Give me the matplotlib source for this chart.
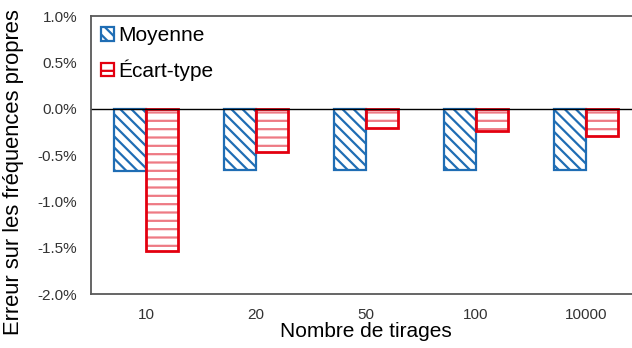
import numpy as np
import matplotlib.pyplot as plt
from matplotlib.ticker import FuncFormatter
from matplotlib.patches import Patch

plt.rcParams['font.family'] = ['Liberation Sans', 'DejaVu Sans']
plt.rcParams['hatch.linewidth'] = 1.6

tirages = ['10', '20', '50', '100', '10000']
moyenne = [-0.67, -0.66, -0.66, -0.66, -0.66]       # en %
ecart_type = [-1.54, -0.47, -0.21, -0.24, -0.29]    # en %

bleu = '#1F6DB4'
rouge = '#E3000F'
rose = '#EE7A84'

fig = plt.figure(figsize=(6.32, 3.48), dpi=100)
ax = fig.add_axes([0.144, 0.155, 0.870, 0.799])

x = np.arange(len(tirages))
w = 0.29
ax.bar(x - w / 2, moyenne, w, color='white', edgecolor=bleu, hatch='\\\\\\', linewidth=1.6)
# hachures rouges plus claires, puis le contour
ax.bar(x + w / 2, ecart_type, w, color='white', edgecolor=rose, hatch='--', linewidth=0)
ax.bar(x + w / 2, ecart_type, w, color='none', edgecolor=rouge, linewidth=2)

ax.axhline(0, color='black', linewidth=1)
ax.set_xlim(-0.5, len(tirages) - 0.5)
ax.set_ylim(-2.0, 1.0)
ax.set_yticks(np.arange(-2.0, 1.01, 0.5))
ax.yaxis.set_major_formatter(FuncFormatter(lambda v, p: f'{v:.1f}%'))
ax.set_xticks(x)
ax.set_xticklabels(tirages)
ax.tick_params(length=0, labelsize=11, colors='#333333', pad=10)
for s in ax.spines.values():
    s.set_color('#595959')
    s.set_linewidth(1.3)

ax.set_xlabel('Nombre de tirages', fontsize=15, labelpad=0)
ax.set_ylabel('Erreur sur les fréquences propres', fontsize=15.8)
ax.yaxis.set_label_coords(-0.122, 0.44)

handles = [Patch(facecolor='white', edgecolor=bleu, hatch='\\\\\\', linewidth=1.6, label='Moyenne'),
           Patch(facecolor='white', edgecolor=rouge, hatch='--', linewidth=1.6, label='Écart-type')]
ax.legend(handles=handles, loc='upper left', frameon=False, fontsize=15,
          handlelength=0.6, handleheight=0.6, handletextpad=0.2,
          borderaxespad=0.1, labelspacing=0.68)

fig.savefig('out.png', dpi=100)
